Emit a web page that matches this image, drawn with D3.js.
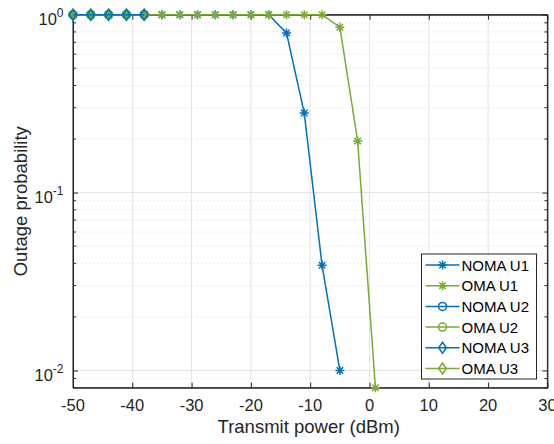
<!DOCTYPE html>
<html>
<head>
<meta charset="utf-8">
<script src="https://cdn.jsdelivr.net/npm/d3@7"></script>
<style>
  body { margin: 0; background: #fff; }
  svg { font-family: "Liberation Sans", Arial, sans-serif; }
</style>
</head>
<body>
<div id="chart"></div>
<script>
// Data
var xTicks = [-50, -40, -30, -20, -10, 0, 10, 20, 30];
var yTicks = [0.01, 0.1, 1];
var yTickExp = ["-2", "-1", "0"];

var nomaU1x = [-50, -47, -44, -41, -38, -35, -32, -29, -26, -23, -20, -17, -14, -11, -8, -5];
var nomaU1y = [1, 1, 1, 1, 1, 1, 1, 1, 1, 1, 1, 1, 0.79, 0.28, 0.039, 0.01];
var omaU1x = [-50, -47, -44, -41, -38, -35, -32, -29, -26, -23, -20, -17, -14, -11, -8, -5, -2, 1];
var omaU1y = [1, 1, 1, 1, 1, 1, 1, 1, 1, 1, 1, 1, 1, 1, 1, 0.85, 0.195, 0.008];
var u23x = [-50, -47, -44, -41, -38];
var u23y = [1, 1, 1, 1, 1];

var blue = "#0072BD", green = "#77AC30";

var series = [
    {name: "NOMA U1", x: nomaU1x, y: nomaU1y, color: blue, marker: "star"},
    {name: "OMA U1", x: omaU1x, y: omaU1y, color: green, marker: "star"},
    {name: "NOMA U2", x: u23x, y: u23y, color: blue, marker: "circle"},
    {name: "OMA U2", x: u23x, y: u23y, color: green, marker: "circle"},
    {name: "NOMA U3", x: u23x, y: u23y, color: blue, marker: "diamond"},
    {name: "OMA U3", x: u23x, y: u23y, color: green, marker: "diamond"}
];
// draw order: green diamonds under blue ones as in the reference
var drawOrder = [0, 1, 2, 3, 5, 4];

var W = 554, H = 444;
var margin = {top: 14.7, right: 6.6, bottom: 56.3, left: 73};
var width = W - margin.left - margin.right;
var height = H - margin.top - margin.bottom;

var svg = d3.select('#chart').append('svg')
    .attr('width', W)
    .attr('height', H);

var x = d3.scaleLinear().domain([-50, 30]).range([0, width]);
var y = d3.scaleLog().domain([0.008, 1]).range([height, 0]);

var g = svg.append('g')
    .attr('transform', 'translate(' + margin.left + ',' + margin.top + ')');

// minor y values
var minor = [];
[0.001, 0.01, 0.1].forEach(function(d) {
    for (var k = 2; k <= 9; k++) {
        var v = d * k;
        if (v >= 0.008 && v < 1) minor.push(v);
    }
});

// grid
g.selectAll('line.ygm').data(minor).enter().append('line')
    .attr('x1', 0).attr('x2', width)
    .attr('y1', function(d) { return y(d); }).attr('y2', function(d) { return y(d); })
    .attr('stroke', '#cfcfcf').attr('stroke-width', 0.8)
    .attr('stroke-dasharray', '1,3');
g.selectAll('line.yg').data(yTicks).enter().append('line')
    .attr('x1', 0).attr('x2', width)
    .attr('y1', function(d) { return y(d); }).attr('y2', function(d) { return y(d); })
    .attr('stroke', '#e3e3e3').attr('stroke-width', 1);
g.selectAll('line.xg').data(xTicks).enter().append('line')
    .attr('x1', function(d) { return x(d); }).attr('x2', function(d) { return x(d); })
    .attr('y1', 0).attr('y2', height)
    .attr('stroke', '#e3e3e3').attr('stroke-width', 1);

// axes (MATLAB style: inward ticks on all four sides)
var axisColor = '#262626';
var xBottom = d3.axisBottom(x).tickValues(xTicks).tickSizeInner(-5).tickSizeOuter(0).tickFormat('');
var xTop = d3.axisTop(x).tickValues(xTicks).tickSizeInner(-5).tickSizeOuter(0).tickFormat('');
var yLeft = d3.axisLeft(y).tickValues(yTicks).tickSizeInner(-5).tickSizeOuter(0).tickFormat('');
var yRight = d3.axisRight(y).tickValues(yTicks).tickSizeInner(-5).tickSizeOuter(0).tickFormat('');

g.append('g').attr('transform', 'translate(0,' + height + ')').call(xBottom);
g.append('g').call(xTop);
g.append('g').call(yLeft);
g.append('g').attr('transform', 'translate(' + width + ',0)').call(yRight);

g.selectAll('.domain').attr('stroke', axisColor);
g.selectAll('.tick line').attr('stroke', axisColor);

// x tick labels (plain hyphen, as MATLAB prints them)
g.selectAll('text.xt').data(xTicks).enter().append('text')
    .attr('x', function(d) { return x(d); })
    .attr('y', height + 23.3)
    .attr('text-anchor', 'middle')
    .attr('fill', axisColor)
    .style('font-size', '16.5px')
    .text(function(d) { return String(d); });

// minor y ticks
[0, width].forEach(function(x0) {
    var dir = x0 === 0 ? 1 : -1;
    g.selectAll(null).data(minor).enter().append('line')
        .attr('x1', x0).attr('x2', x0 + dir * 3)
        .attr('y1', function(d) { return y(d); }).attr('y2', function(d) { return y(d); })
        .attr('stroke', axisColor);
});

// y tick labels with superscripts
yTicks.forEach(function(d, i) {
    var t = g.append('text')
        .attr('x', -9.5)
        .attr('y', y(d) + 10.5)
        .attr('text-anchor', 'end')
        .attr('fill', axisColor)
        .style('font-size', '16.5px');
    t.append('tspan').text('10');
    t.append('tspan').attr('dy', -8).style('font-size', '12px').text(yTickExp[i]);
});

// box
g.append('rect').attr('width', width).attr('height', height)
    .attr('fill', 'none').attr('stroke', axisColor).attr('stroke-width', 1);

// markers
function drawMarker(sel, type, color, cx, cy) {
    if (type === 'star') {
        var s = 4.5;
        var d = 'M' + (cx - s) + ',' + cy + 'H' + (cx + s) +
            'M' + cx + ',' + (cy - s) + 'V' + (cy + s) +
            'M' + (cx - s * 0.72) + ',' + (cy - s * 0.72) + 'L' + (cx + s * 0.72) + ',' + (cy + s * 0.72) +
            'M' + (cx - s * 0.72) + ',' + (cy + s * 0.72) + 'L' + (cx + s * 0.72) + ',' + (cy - s * 0.72);
        sel.append('path').attr('d', d).attr('stroke', color).attr('stroke-width', 1.5).attr('fill', 'none');
    } else if (type === 'circle') {
        sel.append('circle').attr('cx', cx).attr('cy', cy).attr('r', 4)
            .attr('stroke', color).attr('stroke-width', 1.5).attr('fill', 'none');
    } else {
        var r = 5.5;
        sel.append('path')
            .attr('d', 'M' + cx + ',' + (cy - r) + 'L' + (cx + r * 0.7) + ',' + cy + 'L' + cx + ',' + (cy + r) + 'L' + (cx - r * 0.7) + ',' + cy + 'Z')
            .attr('stroke', color).attr('stroke-width', 1.5).attr('fill', 'none');
    }
}

var line = d3.line()
    .x(function(d) { return x(d[0]); })
    .y(function(d) { return y(d[1]); });

drawOrder.forEach(function(i) {
    var s = series[i];
    var pts = s.x.map(function(v, j) { return [v, s.y[j]]; });
    var sg = g.append('g');
    sg.append('path').datum(pts).attr('d', line)
        .attr('fill', 'none').attr('stroke', s.color).attr('stroke-width', 1.5);
    pts.forEach(function(p) { drawMarker(sg, s.marker, s.color, x(p[0]), y(p[1])); });
});

// legend
var lg = svg.append('g').attr('transform', 'translate(421.5,254)');
lg.append('rect').attr('width', 115).attr('height', 125)
    .attr('fill', '#fff').attr('stroke', axisColor).attr('stroke-width', 1);
series.forEach(function(s, i) {
    var cy = 11 + i * 20.7;
    lg.append('line').attr('x1', 4).attr('x2', 38).attr('y1', cy).attr('y2', cy)
        .attr('stroke', s.color).attr('stroke-width', 1.5);
    drawMarker(lg, s.marker, s.color, 21, cy);
    lg.append('text').attr('x', 40).attr('y', cy + 5.5)
        .attr('fill', '#000').style('font-size', '15px').text(s.name);
});

// axis labels
svg.append('text')
    .attr('x', margin.left + width / 2 - 1.5)
    .attr('y', 432.5)
    .attr('text-anchor', 'middle')
    .attr('fill', axisColor)
    .style('font-size', '18.5px')
    .text('Transmit power (dBm)');

svg.append('text')
    .attr('transform', 'translate(27,' + (margin.top + height / 2) + ') rotate(-90)')
    .attr('text-anchor', 'middle')
    .attr('fill', axisColor)
    .style('font-size', '18.5px')
    .text('Outage probability');
</script>
</body>
</html>
